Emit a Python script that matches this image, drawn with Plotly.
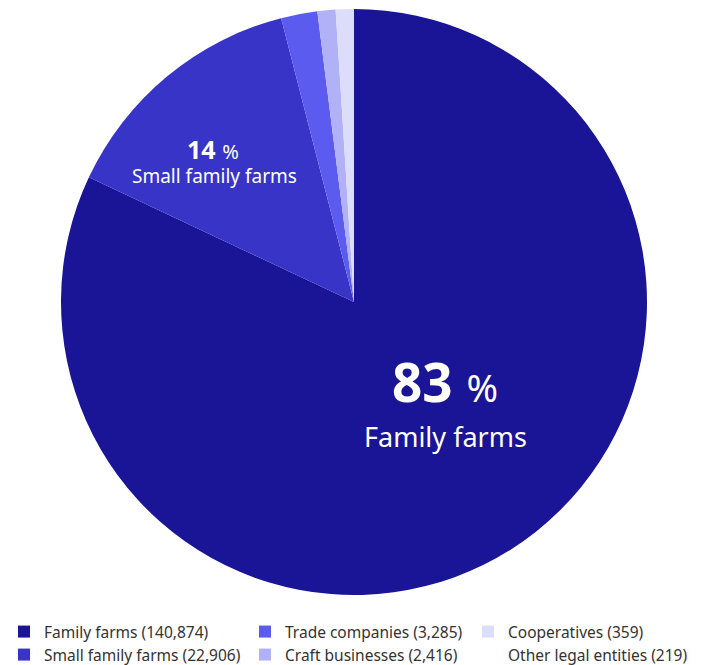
import plotly.graph_objects as go

# ---- data ----
categories = ["Family farms", "Small family farms", "Trade companies",
              "Craft businesses", "Cooperatives", "Other legal entities"]
counts = ["140,874", "22,906", "3,285", "2,416", "359", "219"]
shares = [82, 14, 2, 1, 1, 0]          # slice sizes
label_pct = ["83", "14"]
colors = ["#1a1496", "#3734c7", "#5b5bf0", "#b1b1f7", "#dcdcfb", "#ffffff"]

FONT = "Noto Sans"
W, H = 702, 665
ML, MR, MT, MB = 61, 55, 9, 70
PW, PH = W - ML - MR, H - MT - MB

def px(x):
    return (x - ML) / PW

def py(y):
    return 1 - (y - MT) / PH

fig = go.Figure()
fig.add_trace(go.Pie(
    labels=categories, values=shares, sort=False, direction="clockwise",
    rotation=0, marker=dict(colors=colors, line=dict(color="white", width=0)),
    textinfo="none", showlegend=False, hoverinfo="label+percent",
))

# legend entries (column-major order, as in the reference)
legend_pos = [(4, 632), (4, 655), (245, 632), (245, 655), (468, 632), (468, 655)]
layout_legends = {}
for i, (cat, cnt, col) in enumerate(zip(categories, counts, colors)):
    lname = "legend" if i == 0 else f"legend{i+1}"
    fig.add_trace(go.Scatter(
        x=[None], y=[None], mode="markers", name=f"{cat} ({cnt})",
        marker=dict(symbol="square", size=12, color=col),
        legend=lname, showlegend=True, hoverinfo="skip",
    ))
    lx, ly = legend_pos[i]
    layout_legends[lname] = dict(
        x=lx / W, y=1 - ly / H, xref="container", yref="container",
        xanchor="left", yanchor="middle", bgcolor="rgba(0,0,0,0)",
        font=dict(family=FONT, size=15.5, color="#333333"),
    )

annotations = [
    dict(x=px(445), y=py(381),
         text=f"<span style='font-size:53px'><b>{label_pct[0]}</b>&nbsp;</span><span style='font-size:38px'>%</span>"),
    dict(x=px(445), y=py(436), text="<span style='font-size:27px'>Family farms</span>"),
    dict(x=px(213), y=py(149),
         text=f"<span style='font-size:25px'><b>{label_pct[1]}</b>&nbsp;</span><span style='font-size:20px'>%</span>"),
    dict(x=px(214), y=py(176), text="<span style='font-size:19px'>Small family farms</span>"),
]
for a in annotations:
    a.update(xref="paper", yref="paper", showarrow=False,
             xanchor="center", yanchor="middle",
             font=dict(family=FONT, color="white"))

fig.update_layout(
    width=W, height=H, margin=dict(l=ML, r=MR, t=MT, b=MB, autoexpand=False),
    paper_bgcolor="white", plot_bgcolor="white",
    font=dict(family=FONT),
    xaxis=dict(visible=False), yaxis=dict(visible=False),
    annotations=annotations,
    **layout_legends,
)

fig.write_html("out.html")
